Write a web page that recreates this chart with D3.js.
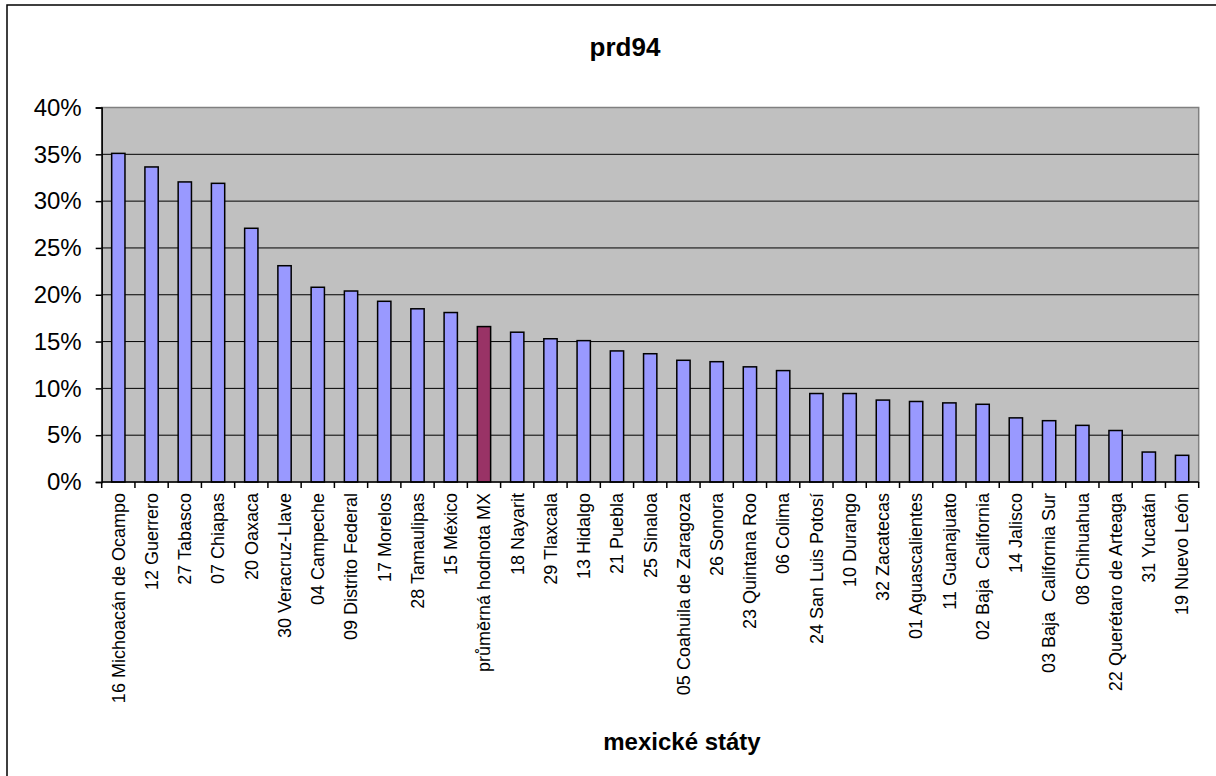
<!DOCTYPE html>
<html>
<head>
<meta charset="utf-8">
<script src="https://cdn.jsdelivr.net/npm/d3@7/dist/d3.min.js"></script>
<style>
  body { margin: 0; background: #fff; }
  svg text { font-family: "Liberation Sans", Arial, sans-serif; }
</style>
</head>
<body>
<svg id="chart" width="1216" height="776"></svg>
<script>
// category labels (state names), in plotted order
var states = [
  "16 Michoacán de Ocampo", "12 Guerrero", "27 Tabasco", "07 Chiapas",
  "20 Oaxaca", "30 Veracruz-Llave", "04 Campeche", "09 Distrito Federal",
  "17 Morelos", "28 Tamaulipas", "15 México", "průměrná hodnota MX",
  "18 Nayarit", "29 Tlaxcala", "13 Hidalgo", "21 Puebla", "25 Sinaloa",
  "05 Coahuila de Zaragoza", "26 Sonora", "23 Quintana Roo", "06 Colima",
  "24 San Luis Potosí", "10 Durango", "32 Zacatecas", "01 Aguascalientes",
  "11 Guanajuato", "02 Baja  California", "14 Jalisco",
  "03 Baja  California Sur", "08 Chihuahua", "22 Querétaro de Arteaga",
  "31 Yucatán", "19 Nuevo León"
];
// prd94 share, percent
var values = [
  35.1, 33.65, 32.05, 31.9, 27.1, 23.1, 20.8, 20.4, 19.3, 18.5, 18.1, 16.6,
  16.0, 15.3, 15.1, 14.0, 13.7, 13.0, 12.85, 12.3, 11.9, 9.45, 9.45, 8.75,
  8.6, 8.45, 8.3, 6.85, 6.55, 6.05, 5.5, 3.2, 2.85
];
var avgLabel = "průměrná hodnota MX";
var yTicks = [0, 5, 10, 15, 20, 25, 30, 35, 40];
var title = "prd94";
var xTitle = "mexické státy";

var data = states.map(function (s, i) { return { name: s, v: values[i] }; });

var svg = d3.select("#chart");

// outer chart border (extends past the picture on right/bottom)
svg.append("rect")
  .attr("x", 7).attr("y", 5)
  .attr("width", 1240).attr("height", 800)
  .attr("fill", "#fff")
  .attr("stroke", "#000")
  .attr("stroke-width", 1.5);

var plotLeft = 101.7, plotRight = 1198.7, plotTop = 107.5, plotBottom = 482;

var x = d3.scaleBand()
  .domain(states)
  .range([plotLeft, plotRight])
  .paddingInner(0.6)
  .paddingOuter(0.3);
var y = d3.scaleLinear().domain([0, 40]).range([plotBottom, plotTop]);

// plot area
svg.append("rect")
  .attr("x", plotLeft).attr("y", plotTop)
  .attr("width", plotRight - plotLeft).attr("height", plotBottom - plotTop)
  .attr("fill", "#c0c0c0")
  .attr("stroke", "#808080")
  .attr("stroke-width", 1.5);

// gridlines
svg.append("g")
  .selectAll("line")
  .data(yTicks.filter(function (t) { return t > 0 && t < 40; }))
  .enter()
  .append("line")
  .attr("x1", plotLeft).attr("x2", plotRight)
  .attr("y1", function (d) { return y(d); })
  .attr("y2", function (d) { return y(d); })
  .attr("stroke", "#000")
  .attr("stroke-width", 1);

// bars
svg.append("g")
  .selectAll("rect")
  .data(data)
  .enter()
  .append("rect")
  .attr("x", function (d) { return x(d.name); })
  .attr("width", x.bandwidth())
  .attr("y", function (d) { return y(d.v); })
  .attr("height", function (d) { return y(0) - y(d.v); })
  .attr("fill", function (d) { return d.name == avgLabel ? "#993366" : "#9999ff"; })
  .attr("stroke", "#000")
  .attr("stroke-width", 1.5);

// y axis
var yAxis = d3.axisLeft(y)
  .tickValues(yTicks)
  .tickSize(6)
  .tickPadding(14)
  .tickFormat(function (d) { return d + "%"; });
var gY = svg.append("g")
  .attr("transform", "translate(" + plotLeft + ",0)")
  .call(yAxis);
gY.select(".domain").attr("stroke", "#000").attr("stroke-width", 1.5);
gY.selectAll(".tick line").attr("stroke", "#000").attr("stroke-width", 1.5);
gY.selectAll(".tick text")
  .attr("font-size", 24)
  .attr("fill", "#000")
  .style("font-family", "'Liberation Sans', Arial, sans-serif");

// x axis line + ticks between categories
var step = x.step();
var gX = svg.append("g");
gX.append("line")
  .attr("x1", plotLeft).attr("x2", plotRight)
  .attr("y1", plotBottom).attr("y2", plotBottom)
  .attr("stroke", "#000").attr("stroke-width", 1.5);
gX.selectAll("line.tk")
  .data(d3.range(states.length + 1))
  .enter()
  .append("line")
  .attr("class", "tk")
  .attr("x1", function (i) { return plotLeft + i * step; })
  .attr("x2", function (i) { return plotLeft + i * step; })
  .attr("y1", plotBottom).attr("y2", plotBottom + 6)
  .attr("stroke", "#000").attr("stroke-width", 1.5);

// category labels, rotated
gX.selectAll("text")
  .data(states)
  .enter()
  .append("text")
  .attr("transform", function (d) {
    return "translate(" + (x(d) + x.bandwidth() / 2) + "," + (plotBottom + 11) + ") rotate(-90)";
  })
  .attr("text-anchor", "end")
  .attr("dy", "0.35em")
  .attr("font-size", 18)
  .style("white-space", "pre")
  .text(function (d) { return d; });

// titles
svg.append("text")
  .attr("x", 625).attr("y", 56)
  .attr("text-anchor", "middle")
  .attr("font-size", 26)
  .attr("font-weight", "bold")
  .text(title);

svg.append("text")
  .attr("x", 682).attr("y", 750)
  .attr("text-anchor", "middle")
  .attr("font-size", 24)
  .attr("font-weight", "bold")
  .text(xTitle);
</script>
</body>
</html>
